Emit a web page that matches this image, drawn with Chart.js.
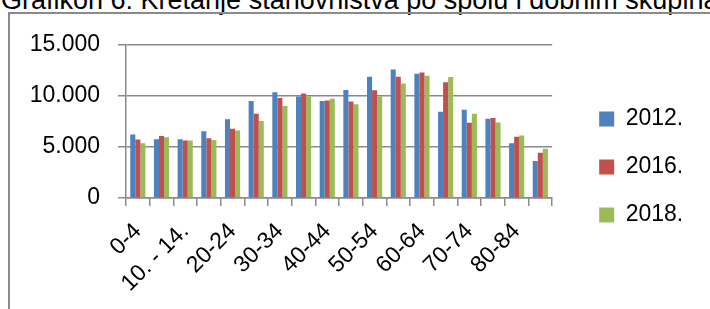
<!DOCTYPE html>
<html>
<head>
<meta charset="utf-8">
<script src="https://cdn.jsdelivr.net/npm/chart.js@4/dist/chart.umd.min.js"></script>
<style>
  html, body { margin: 0; padding: 0; background: #fff; }
  body { width: 710px; height: 309px; position: relative; overflow: hidden; font-family: "Liberation Sans", Arial, sans-serif; }
  #title { position: absolute; left: 1px; top: -15px; font-size: 27px; line-height: 30px; color: #000; white-space: nowrap; }
  #frame { position: absolute; left: 8px; top: 12px; width: 720px; height: 320px; border: 2px solid #8a8a8a; box-sizing: border-box; }
  #wrap { position: absolute; left: 10px; top: 13px; width: 700px; height: 296px; }
</style>
</head>
<body>
<div id="title">Grafikon 6: Kretanje stanovništva po spolu i dobnim skupinama</div>
<div id="frame"></div>
<div id="wrap"><canvas id="c" width="700" height="296"></canvas></div>
<script>
const categories = ["0-4","5-9","10. - 14.","15-19","20-24","25-29","30-34","35-39","40-44","45-49","50-54","55-59","60-64","65-69","70-74","75-79","80-84","85+"];
const seriesNames = ["2012.","2016.","2018."];
const values2012 = [6210,5760,5760,6530,7710,9490,10350,9940,9490,10570,11880,12580,12170,8440,8630,7770,5350,3630];
const values2016 = [5730,6080,5640,5860,6780,8250,9780,10220,9550,9460,10540,11880,12290,11340,7360,7830,5990,4430];
const values2018 = [5350,5960,5640,5670,6620,7550,9010,9970,9710,9170,9940,11210,11970,11850,8250,7390,6110,4810];
const yTicks = [0,5000,10000,15000];
const colors = ["#4F81BD","#C0504D","#9BBB59"];

function fmt(v){ return String(v).replace(/\B(?=(\d{3})+(?!\d))/g, "."); }

const gridColor = "#8a8a8a";
const font = { family: "'Liberation Sans', Arial, sans-serif", size: 23 };

new Chart(document.getElementById("c"), {
  type: "bar",
  data: {
    labels: categories,
    datasets: [values2012, values2016, values2018].map((d, i) => ({
      label: seriesNames[i],
      data: d,
      backgroundColor: colors[i],
      borderWidth: 0,
      categoryPercentage: 0.64,
      barPercentage: 1.0
    }))
  },
  options: {
    responsive: false,
    animation: false,
    events: [],
    layout: { padding: { top: 28, bottom: 16, left: 0, right: 23 } },
    plugins: {
      title: { display: false },
      tooltip: { enabled: false },
      legend: {
        position: "right",
        labels: { boxWidth: 15, boxHeight: 15, padding: 25, color: "#000", font: font }
      }
    },
    scales: {
      x: {
        grid: { display: true, drawOnChartArea: false, drawTicks: true, tickLength: 8, offset: true, color: gridColor, lineWidth: 1.5 },
        border: { display: true, color: gridColor, width: 1.5 },
        ticks: {
          autoSkip: false, minRotation: 45, maxRotation: 45, padding: 12, color: "#000", font: font,
          callback: function(v, i){ return i % 2 === 0 ? categories[i] : ""; }
        },
        afterFit: function(s){ s.height = 95; }
      },
      y: {
        min: 0, max: 15000,
        afterBuildTicks: function(s){ s.ticks = yTicks.map(v => ({ value: v })); },
        grid: { color: gridColor, lineWidth: 1.5, drawTicks: true, tickLength: 8 },
        border: { display: true, color: gridColor, width: 1.5 },
        ticks: { padding: 18, color: "#000", font: font, callback: function(v){ return fmt(v); } },
        afterFit: function(s){ s.width = 116; }
      },
      spacer: {
        type: "linear", position: "right", display: true,
        grid: { display: false, drawTicks: false }, border: { display: false },
        ticks: { display: false },
        afterFit: function(s){ s.width = 22; }
      }
    }
  }
});
</script>
</body>
</html>
